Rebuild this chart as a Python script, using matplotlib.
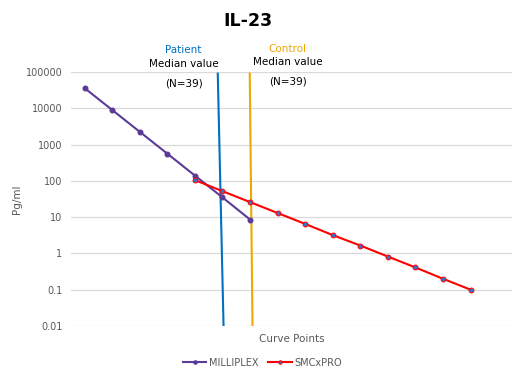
import numpy as np
import matplotlib.pyplot as plt

# category positions (curve points) and measured values, pg/ml
milliplex_x = [0, 1, 2, 3, 4, 5, 6]
milliplex_y = [36000, 9000, 2250, 562, 140, 35, 8.6]
smcxpro_x = [4, 5, 6, 7, 8, 9, 10, 11, 12, 13, 14]
smcxpro_y = [105, 52, 26, 13, 6.5, 3.2, 1.65, 0.82, 0.41, 0.2, 0.1]

# median value lines (drawn as slightly tilted segments)
patient_x = [4.83, 5.04]
patient_y = [90000, 0.01]
control_x = [5.99, 6.09]
control_y = [90000, 0.01]

yticks = [0.01, 0.1, 1, 10, 100, 1000, 10000, 100000]
ytick_labels = ["0.01", "0.1", "1", "10", "100", "1000", "10000", "100000"]

purple = "#5b3b98"
red = "#ff0000"
blue = "#0070c0"
gold = "#eea800"
grey = "#595959"

fig = plt.figure(figsize=(5.13, 3.76), dpi=100)
ax = fig.add_axes([0.138, 0.133, 0.86, 0.6755])

ax.plot(patient_x, patient_y, color=blue, lw=1.5, zorder=2)
ax.plot(control_x, control_y, color=gold, lw=1.5, zorder=2)
ax.plot(milliplex_x, milliplex_y, color=purple, lw=1.5, marker="o", ms=3.3,
        mfc=purple, mec=purple, label="MILLIPLEX", zorder=3)
ax.plot(smcxpro_x, smcxpro_y, color=red, lw=1.5, marker="o", ms=3.5,
        mfc="#3d6fc4", mec=red, mew=0.7, label="SMCxPRO", zorder=3)

ax.set_yscale("log")
ax.set_ylim(0.01, 100000)
ax.set_xlim(-0.5, 15.5)
ax.set_yticks(yticks)
ax.set_yticklabels(ytick_labels)
ax.minorticks_off()
ax.set_xticks([])
ax.tick_params(axis="y", length=0, labelsize=7, labelcolor=grey, pad=6)
ax.grid(axis="y", color="#d9d9d9", lw=0.9)
ax.set_axisbelow(True)
for s in ax.spines.values():
    s.set_visible(False)

ax.set_ylabel("Pg/ml", fontsize=7.5, color=grey, labelpad=3)
ax.set_xlabel("Curve Points", fontsize=7.5, color=grey, labelpad=4)
ax.xaxis.set_label_coords(0.5, -0.03)

fig.text(0.483, 0.945, "IL-23", ha="center", va="center", fontsize=12.5, fontweight="bold")

fig.text(0.358, 0.866, "Patient", ha="center", va="center", fontsize=7.5, color=blue)
fig.text(0.358, 0.829, "Median value", ha="center", va="center", fontsize=7.5)
fig.text(0.358, 0.779, "(N=39)", ha="center", va="center", fontsize=7.5)
fig.text(0.561, 0.869, "Control", ha="center", va="center", fontsize=7.5, color=gold)
fig.text(0.561, 0.834, "Median value", ha="center", va="center", fontsize=7.5)
fig.text(0.561, 0.782, "(N=39)", ha="center", va="center", fontsize=7.5)

leg = fig.legend(loc="center", bbox_to_anchor=(0.512, 0.035), ncol=2, frameon=False,
                 fontsize=7, handlelength=2.4, handletextpad=0.3, columnspacing=1.0,
                 markerscale=0.7)
for t in leg.get_texts():
    t.set_color(grey)

fig.savefig("out.png", dpi=100)
